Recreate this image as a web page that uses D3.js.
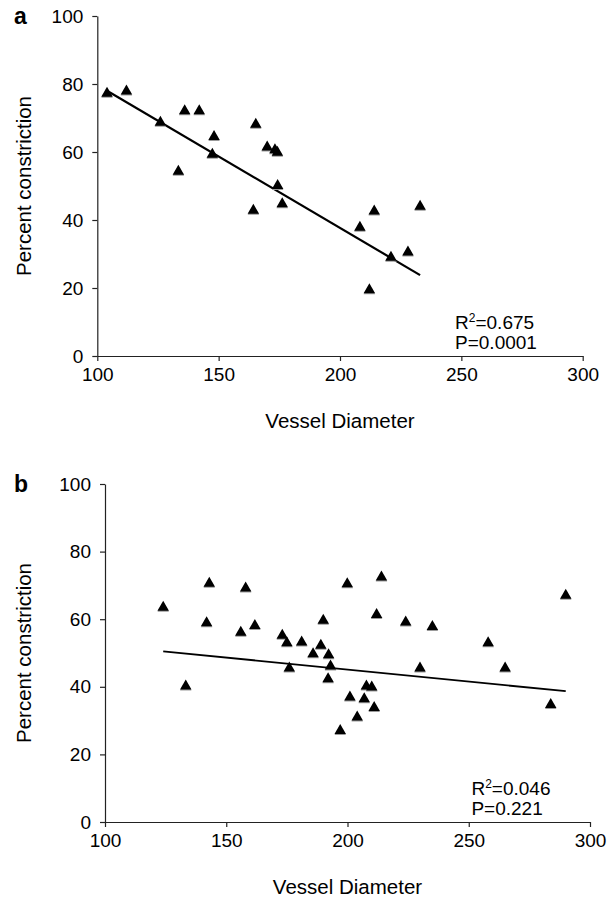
<!DOCTYPE html>
<html>
<head>
<meta charset="utf-8">
<script src="https://cdn.jsdelivr.net/npm/d3@7"></script>
<style>
  html, body { margin: 0; padding: 0; background: #fff; }
  svg { display: block; }
  text { font-family: "Liberation Sans", Arial, sans-serif; fill: #000; }
</style>
</head>
<body>
<svg id="chart" width="616" height="899"></svg>
<script>
// ---------- data ----------
const xTicks = [100, 150, 200, 250, 300];
const yTicks = [0, 20, 40, 60, 80, 100];

// Panel a
const aDiameter    = [104, 112, 126, 136, 142, 133.4, 147.4, 148.1, 164.3, 165.3, 170, 173.2, 174.2, 174.3, 176.2, 208.2, 212.1, 214.1, 221, 228, 233];
const aConstriction= [77.7, 78.4, 69.2, 72.6, 72.6, 54.8, 59.8, 65.0, 43.3, 68.6, 61.9, 61.1, 60.4, 50.6, 45.2, 38.3, 19.9, 43.1, 29.5, 31, 44.5];
const aFitX = [104, 233];
const aFitY = [78.0, 23.8];
const aR2 = "0.675";
const aP  = "0.0001";

// Panel b
const bDiameter    = [124, 133.3, 141.9, 143, 156, 158, 161.8, 173.1, 175, 176, 181.1, 185.8, 189, 190, 192.2, 192, 193, 197, 199.9, 201, 204, 206.9, 207.8, 210, 211, 212, 214, 224, 229.9, 235, 258, 265, 283.8, 290];
const bConstriction= [64.0, 40.7, 59.4, 71.1, 56.6, 69.7, 58.6, 55.7, 53.5, 46.0, 53.7, 50.2, 52.7, 60.1, 49.9, 42.8, 46.6, 27.5, 70.9, 37.4, 31.5, 36.9, 40.7, 40.4, 34.3, 61.8, 72.9, 59.6, 46.0, 58.3, 53.5, 46.0, 35.2, 67.5];
const bFitX = [124, 290];
const bFitY = [50.5, 38.7];
const bR2 = "0.046";
const bP  = "0.221";

const xLabel = "Vessel Diameter";
const yLabel = "Percent constriction";

// ---------- layout ----------
const panels = [
  { tag: "a", xs: aDiameter, ys: aConstriction, fx: aFitX, fy: aFitY, r2: aR2, p: aP,
    left: 97.3, right: 582.7, top: 16, bottom: 356, lineW: 2.2, statX: 247.4 },
  { tag: "b", xs: bDiameter, ys: bConstriction, fx: bFitX, fy: bFitY, r2: bR2, p: bP,
    left: 105, right: 590, top: 484, bottom: 822, lineW: 1.8, statX: 251.1 }
];

const svg = d3.select("#chart");
const FS = 19;     // tick / stats font
const TFS = 20.5;  // axis title font

function triangle(w, h) {
  return d3.symbol().type({
    draw(ctx) {
      ctx.moveTo(0, -h / 2);
      ctx.lineTo(w / 2, h / 2);
      ctx.lineTo(-w / 2, h / 2);
      ctx.closePath();
    }
  })();
}
const triPath = triangle(11.5, 10);

panels.forEach(P => {
  const x = d3.scaleLinear().domain([100, 300]).range([P.left, P.right]);
  const y = d3.scaleLinear().domain([0, 100]).range([P.bottom, P.top]);
  const g = svg.append("g");

  // x axis
  const xAxis = d3.axisBottom(x).tickValues(xTicks).tickSize(5).tickSizeOuter(0).tickPadding(7);
  const gx = g.append("g").attr("transform", `translate(0,${P.bottom})`).call(xAxis);
  gx.select(".domain").attr("stroke", "#222").attr("stroke-width", 1.2);
  gx.selectAll(".tick line").attr("stroke", "#222").attr("stroke-width", 1.2);
  gx.selectAll(".tick text").attr("font-size", FS).attr("font-family", "Liberation Sans, Arial, sans-serif").attr("fill", "#000");

  // y axis
  const yAxis = d3.axisLeft(y).tickValues(yTicks).tickSize(5).tickSizeOuter(0).tickPadding(9);
  const gy = g.append("g").attr("transform", `translate(${P.left},0)`).call(yAxis);
  gy.select(".domain").attr("stroke", "#222").attr("stroke-width", 1.2);
  gy.selectAll(".tick line").attr("stroke", "#222").attr("stroke-width", 1.2);
  gy.selectAll(".tick text").attr("font-size", FS).attr("font-family", "Liberation Sans, Arial, sans-serif").attr("fill", "#000");

  // panel tag
  g.append("text").attr("x", 14).attr("y", y(100) + 8)
    .attr("font-size", 23).attr("font-weight", "bold").text(P.tag);

  // axis titles
  g.append("text").attr("x", (P.left + P.right) / 2).attr("y", P.bottom + 72)
    .attr("text-anchor", "middle").attr("font-size", TFS).text(xLabel);
  g.append("text")
    .attr("transform", `translate(31,${(P.top + P.bottom) / 2}) rotate(-90)`)
    .attr("text-anchor", "middle").attr("font-size", TFS).text(yLabel);

  // fit line
  g.append("line")
    .attr("x1", x(P.fx[0])).attr("y1", y(P.fy[0]))
    .attr("x2", x(P.fx[1])).attr("y2", y(P.fy[1]))
    .attr("stroke", "#000").attr("stroke-width", P.lineW);

  // marker shadows (light grey rim under each triangle)
  g.selectAll("path.sh").data(d3.range(P.xs.length)).join("path")
    .attr("class", "sh")
    .attr("transform", i => `translate(${x(P.xs[i])},${y(P.ys[i]) + 1})`)
    .attr("d", triPath)
    .attr("fill", "#9a9a9a");

  // markers
  g.selectAll("path.pt").data(d3.range(P.xs.length)).join("path")
    .attr("class", "pt")
    .attr("transform", i => `translate(${x(P.xs[i])},${y(P.ys[i])})`)
    .attr("d", triPath)
    .attr("fill", "#000");

  // stats
  const sx = x(P.statX);
  const t1 = g.append("text").attr("x", sx).attr("y", P.bottom - 27).attr("font-size", FS);
  t1.append("tspan").text("R");
  t1.append("tspan").attr("font-size", 12).attr("dy", -7).text("2");
  t1.append("tspan").attr("dy", 7).text("=" + P.r2);
  g.append("text").attr("x", sx).attr("y", P.bottom - 7).attr("font-size", FS).text("P=" + P.p);
});
</script>
</body>
</html>
